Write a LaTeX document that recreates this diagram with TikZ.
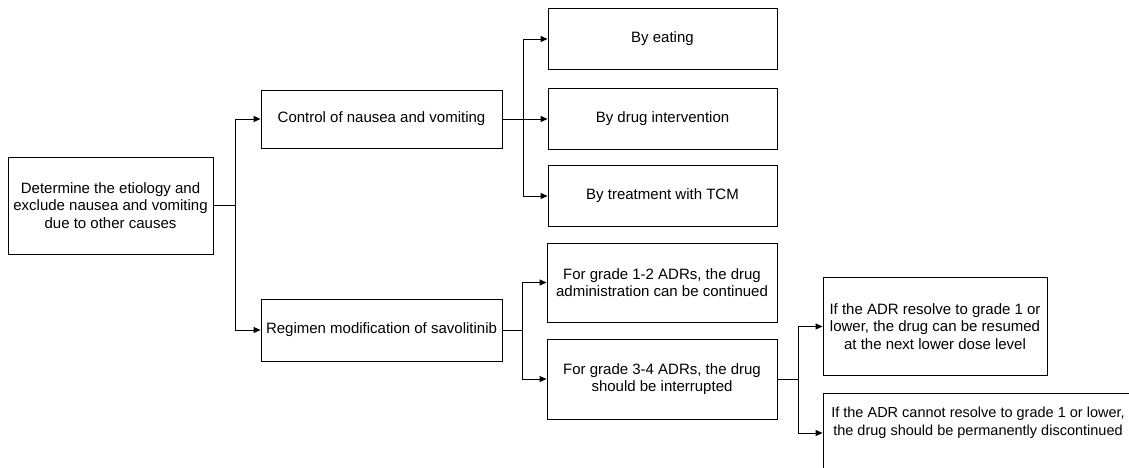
\documentclass[tikz,border=0pt]{standalone}
\usepackage{fontspec}
\setmainfont{Liberation Sans}
\usetikzlibrary{arrows.meta}
\tikzset{
	box/.style={draw, line width=0.9pt, align=center, inner sep=0pt, font=\fontsize{15}{17.5}\selectfont},
	conn/.style={line width=0.9pt},
	arr/.style={conn, -{Triangle[length=7pt,width=6pt]}}
}
\begin{document}
\begin{tikzpicture}[x=1pt,y=-1pt]
\useasboundingbox (0,0) rectangle (1129,468);
\clip (0,0) rectangle (1129,468);

\node[box, minimum width=205pt, minimum height=97pt] (root) at (110.5,205.5) {Determine the etiology and\\exclude nausea and vomiting\\due to other causes};
\node[box, minimum width=241pt, minimum height=58pt] (ctrl) at (381.5,119) {Control of nausea and vomiting};
\node[box, minimum width=241pt, minimum height=62pt] (reg) at (381.5,330) {Regimen modification of savolitinib};

\foreach \y/\name/\txt in {39/eat/By eating, 119/drug/By drug intervention, 196/tcm/By treatment with TCM} {
	\node[box, minimum width=229pt, minimum height=61pt] (\name) at (662.5,\y) {\txt};
}

\node[box, minimum width=230pt, minimum height=79pt] (low) at (662,282.5) {For grade 1-2 ADRs, the drug\\administration can be continued};
\node[box, minimum width=230pt, minimum height=80pt] (high) at (662,379) {For grade 3-4 ADRs, the drug\\should be interrupted};
\node[box, minimum width=224pt, minimum height=98pt] (resume) at (935,326.5) {If the ADR resolve to grade 1 or\\lower, the drug can be resumed\\at the next lower dose level};
\node[box, minimum width=310pt, minimum height=80pt, font=\fontsize{14.5}{17.5}\selectfont] (stop) at (978,433) {If the ADR cannot resolve to grade 1 or lower,\\the drug should be permanently discontinued\\[6pt]};

\coordinate (j1) at (235,205.5);
\coordinate (j2) at (523,119);
\coordinate (j3) at (522,330);
\coordinate (j4) at (798,379);

\draw[conn] (root.east) -- (j1);
\draw[arr] (j1) |- (ctrl.west);
\draw[arr] (j1) |- (reg.west);

\draw[conn] (ctrl.east) -- (j2);
\foreach \name in {eat,drug,tcm} {
	\draw[arr] (j2) |- (\name.west);
}

\draw[conn] (reg.east) -- (j3);
\draw[arr] (j3) |- (low.west);
\draw[arr] (j3) |- (high.west);

\draw[conn] (high.east) -- (j4);
\draw[arr] (j4) |- (resume.west);
\draw[arr] (j4) |- (stop.west);
\end{tikzpicture}
\end{document}
